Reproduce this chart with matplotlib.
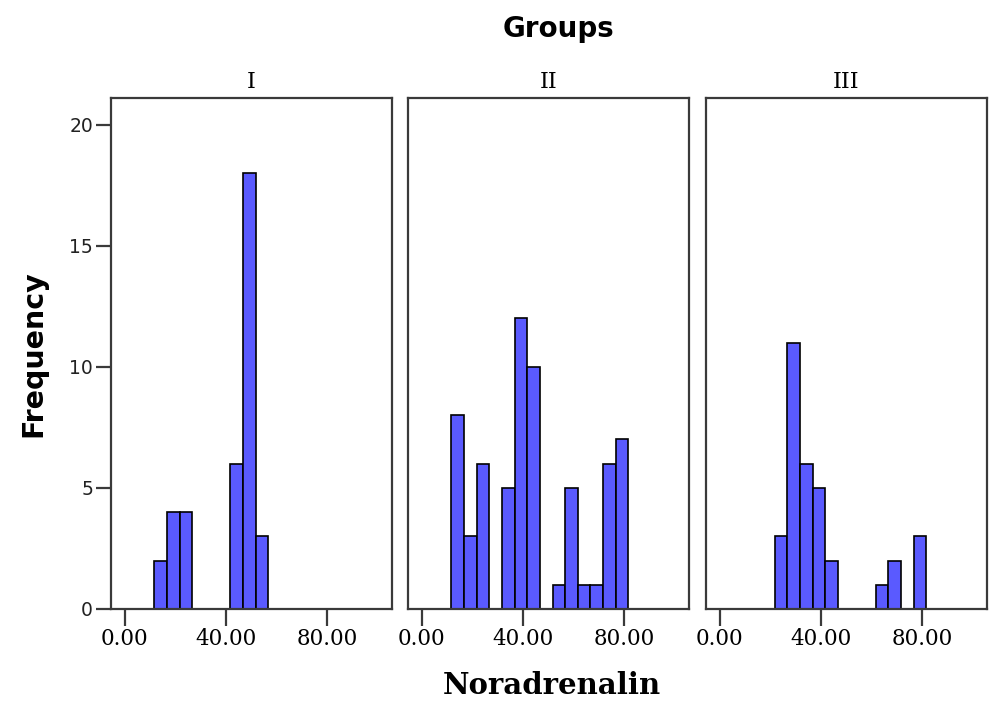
"""Histograms of noradrenalin by group, one panel per group."""

import numpy as np
import matplotlib
matplotlib.use('Agg')
import matplotlib.pyplot as plt


## bin edges (width 5) and counts
bin_start = 11.7
bin_width = 5.0
groups = ['I', 'II', 'III']
counts_I = [2, 4, 4, 0, 0, 0, 6, 18, 3]
counts_II = [8, 3, 6, 0, 5, 12, 10, 0, 1, 5, 1, 1, 6, 7]
counts_III = [0, 0, 3, 11, 6, 5, 2, 0, 0, 0, 1, 2, 0, 3]
x_ticks = [0, 40, 80]
x_ticklabels = ['0.00', '40.00', '80.00']
y_ticks = [0, 5, 10, 15, 20]

all_counts = [counts_I, counts_II, counts_III]

bar_color = '#5a5aff'
frame_color = '#3a3a3a'
serif = 'DejaVu Serif'

fig = plt.figure(figsize=(9.92, 7.04), dpi=100)

lefts = [111, 408, 706]
axes = []
for i, left in enumerate(lefts):
    ax = fig.add_axes([left / 992, 1 - 609 / 704, 281 / 992, 511 / 704])
    axes.append(ax)
    counts = all_counts[i]
    edges = bin_start + bin_width * np.arange(len(counts))
    ax.bar(edges, counts, width=bin_width, align='edge',
           color=bar_color, edgecolor='black', linewidth=1.2)
    ax.set_xlim(-5.5, 105.7)
    ax.set_ylim(0, 21.1)
    ax.set_xticks(x_ticks)
    ax.set_xticklabels(x_ticklabels, fontfamily=serif, fontsize=15.5)
    ax.tick_params(axis='x', direction='out', length=12, width=1.6,
                   color=frame_color, pad=2)
    for s in ax.spines.values():
        s.set_color(frame_color)
        s.set_linewidth(1.6)
    ax.set_title(groups[i], fontfamily=serif, fontsize=16, pad=7)
    if i == 0:
        ax.set_yticks(y_ticks)
        ax.set_yticklabels([str(v) for v in y_ticks], fontsize=13.5,
                           color='#222222')
        ax.tick_params(axis='y', direction='out', length=11, width=1.6,
                       color=frame_color, pad=2)
    else:
        ax.set_yticks([])

fig.text(558 / 992, 1 - 29 / 704, 'Groups', ha='center', va='center',
         fontsize=20, fontweight='bold', fontfamily='DejaVu Sans')
fig.text(33 / 992, 1 - 354 / 704, 'Frequency', ha='center', va='center',
         rotation=90, fontsize=20.5, fontweight='bold', fontfamily='DejaVu Sans')
fig.text(552 / 992, 1 - 686 / 704, 'Noradrenalin', ha='center', va='center',
         fontsize=21, fontweight='bold', fontfamily=serif)

fig.savefig('out.png', dpi=100)
